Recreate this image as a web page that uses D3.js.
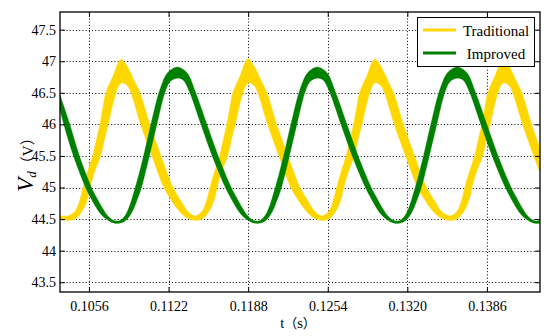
<!DOCTYPE html>
<html>
<head>
<meta charset="utf-8">
<script src="https://cdn.jsdelivr.net/npm/d3@7"></script>
<style>
  body { margin: 0; background: #fff; }
  svg { display: block; }
  text { font-family: "Liberation Serif", serif; fill: #000; }
  .cjk { font-family: "Noto Sans CJK SC", sans-serif; }
</style>
</head>
<body>
<svg id="chart" width="550" height="336"></svg>
<script>
// ---- data ----
var xTicks = [0.1056, 0.1122, 0.1188, 0.1254, 0.1320, 0.1386];
var xTickLabels = ["0.1056", "0.1122", "0.1188", "0.1254", "0.1320", "0.1386"];
var yTicks = [43.5, 44, 44.5, 45, 45.5, 46, 46.5, 47, 47.5];
var yTickLabels = ["43.5", "44", "44.5", "45", "45.5", "46", "46.5", "47", "47.5"];
var seriesNames = ["Traditional", "Improved"];

// Traditional: upper / lower edge of the ripple band, [t (s), v (V)]
var tradUpper = [
  [0.10320, 44.55], [0.10386, 44.55], [0.10444, 44.62], [0.10486, 44.81], [0.10511, 45.00], [0.10552, 45.27],
  [0.10591, 45.50], [0.10623, 45.76], [0.10652, 46.00], [0.10676, 46.26], [0.10701, 46.50], [0.10759, 46.76],
  [0.10826, 47.03], [0.10867, 46.95], [0.10909, 46.80], [0.10950, 46.63], [0.10983, 46.50], [0.11064, 46.00],
  [0.11157, 45.50], [0.11257, 45.00], [0.11331, 44.76], [0.11381, 44.62],
  [0.11439, 44.55], [0.11497, 44.62], [0.11539, 44.81], [0.11564, 45.00], [0.11605, 45.27], [0.11644, 45.50],
  [0.11675, 45.76], [0.11704, 46.00], [0.11729, 46.26], [0.11754, 46.50], [0.11812, 46.76], [0.11879, 47.04],
  [0.11920, 46.95], [0.11961, 46.80], [0.12003, 46.63], [0.12036, 46.50], [0.12116, 46.00], [0.12210, 45.50],
  [0.12310, 45.00], [0.12384, 44.76], [0.12434, 44.62],
  [0.12490, 44.55], [0.12548, 44.62], [0.12589, 44.81], [0.12614, 45.00], [0.12655, 45.27], [0.12694, 45.50],
  [0.12726, 45.76], [0.12755, 46.00], [0.12780, 46.26], [0.12805, 46.50], [0.12863, 46.76], [0.12929, 47.03],
  [0.12970, 46.95], [0.13012, 46.80], [0.13053, 46.63], [0.13086, 46.50], [0.13167, 46.00], [0.13260, 45.50],
  [0.13360, 45.00], [0.13435, 44.76], [0.13484, 44.62],
  [0.13553, 44.55], [0.13611, 44.62], [0.13653, 44.81], [0.13677, 45.00], [0.13719, 45.27], [0.13758, 45.50],
  [0.13789, 45.76], [0.13818, 46.00], [0.13843, 46.26], [0.13868, 46.50], [0.13926, 46.76], [0.13993, 47.02],
  [0.14034, 46.95], [0.14075, 46.80], [0.14117, 46.63], [0.14150, 46.50], [0.14230, 46.00], [0.14324, 45.50]
];
var tradLower = [
  [0.10320, 44.49], [0.10386, 44.48], [0.10453, 44.51], [0.10511, 44.65], [0.10552, 44.85], [0.10569, 45.00],
  [0.10610, 45.27], [0.10657, 45.50], [0.10689, 45.77], [0.10720, 46.00], [0.10751, 46.27], [0.10784, 46.50],
  [0.10809, 46.62], [0.10830, 46.66], [0.10851, 46.65], [0.10884, 46.60], [0.10909, 46.50], [0.10989, 46.00],
  [0.11083, 45.50], [0.11182, 45.00], [0.11240, 44.81], [0.11298, 44.65], [0.11365, 44.53],
  [0.11439, 44.48], [0.11505, 44.51], [0.11564, 44.65], [0.11605, 44.85], [0.11622, 45.00], [0.11663, 45.27],
  [0.11710, 45.50], [0.11742, 45.77], [0.11773, 46.00], [0.11804, 46.27], [0.11837, 46.50], [0.11862, 46.62],
  [0.11883, 46.66], [0.11903, 46.65], [0.11937, 46.60], [0.11961, 46.50], [0.12042, 46.00], [0.12136, 45.50],
  [0.12235, 45.00], [0.12293, 44.81], [0.12351, 44.65], [0.12417, 44.53],
  [0.12490, 44.48], [0.12556, 44.51], [0.12614, 44.65], [0.12655, 44.85], [0.12672, 45.00], [0.12714, 45.27],
  [0.12761, 45.50], [0.12792, 45.77], [0.12824, 46.00], [0.12855, 46.27], [0.12888, 46.50], [0.12913, 46.62],
  [0.12933, 46.66], [0.12954, 46.65], [0.12987, 46.60], [0.13012, 46.50], [0.13092, 46.00], [0.13186, 45.50],
  [0.13286, 45.00], [0.13344, 44.81], [0.13402, 44.65], [0.13468, 44.53],
  [0.13553, 44.48], [0.13619, 44.51], [0.13677, 44.65], [0.13719, 44.85], [0.13735, 45.00], [0.13777, 45.27],
  [0.13824, 45.50], [0.13856, 45.77], [0.13887, 46.00], [0.13918, 46.27], [0.13951, 46.50], [0.13976, 46.62],
  [0.13997, 46.66], [0.14017, 46.65], [0.14051, 46.60], [0.14075, 46.50], [0.14156, 46.00], [0.14249, 45.50],
  [0.14349, 45.00]
];

// Improved: upper / lower edge of the ripple band
var imprUpper = [
  [0.10320, 46.47], [0.10397, 46.03], [0.10478, 45.52], [0.10579, 45.01], [0.10621, 44.85], [0.10671, 44.68],
  [0.10712, 44.56], [0.10754, 44.49],
  [0.10795, 44.47], [0.10828, 44.49], [0.10861, 44.56], [0.10895, 44.70], [0.10936, 44.95], [0.10973, 45.20],
  [0.11015, 45.52], [0.11077, 46.03], [0.11143, 46.52], [0.11201, 46.79], [0.11243, 46.87], [0.11292, 46.91],
  [0.11342, 46.87], [0.11384, 46.79], [0.11442, 46.52], [0.11533, 46.03], [0.11628, 45.52], [0.11738, 45.01],
  [0.11782, 44.85], [0.11831, 44.68], [0.11873, 44.56], [0.11914, 44.49],
  [0.11956, 44.47], [0.11989, 44.49], [0.12022, 44.56], [0.12056, 44.70], [0.12097, 44.95], [0.12134, 45.20],
  [0.12176, 45.52], [0.12238, 46.03], [0.12304, 46.52], [0.12362, 46.79], [0.12404, 46.87], [0.12453, 46.91],
  [0.12503, 46.87], [0.12545, 46.79], [0.12603, 46.52], [0.12694, 46.03], [0.12789, 45.52], [0.12899, 45.01],
  [0.12943, 44.85], [0.12992, 44.68], [0.13034, 44.56], [0.13075, 44.49],
  [0.13116, 44.47], [0.13149, 44.49], [0.13182, 44.56], [0.13216, 44.70], [0.13257, 44.95], [0.13294, 45.20],
  [0.13336, 45.52], [0.13398, 46.03], [0.13464, 46.52], [0.13522, 46.79], [0.13564, 46.87], [0.13613, 46.91],
  [0.13663, 46.87], [0.13705, 46.79], [0.13763, 46.52], [0.13854, 46.03], [0.13949, 45.52], [0.14059, 45.01],
  [0.14103, 44.85], [0.14152, 44.68], [0.14194, 44.56], [0.14235, 44.49],
  [0.14277, 44.47], [0.14310, 44.49], [0.14343, 44.56]
];
var imprLower = [
  [0.10320, 46.23], [0.10347, 46.03], [0.10428, 45.52], [0.10530, 45.01], [0.10571, 44.85], [0.10621, 44.68],
  [0.10662, 44.57], [0.10704, 44.50], [0.10745, 44.45],
  [0.10795, 44.43], [0.10828, 44.44], [0.10861, 44.47], [0.10895, 44.54], [0.10928, 44.65], [0.10961, 44.81],
  [0.10994, 44.99], [0.11064, 45.52], [0.11127, 46.03], [0.11193, 46.52], [0.11234, 46.68], [0.11292, 46.73],
  [0.11342, 46.70], [0.11392, 46.52], [0.11483, 46.03], [0.11578, 45.52], [0.11689, 45.01], [0.11732, 44.85],
  [0.11782, 44.68], [0.11823, 44.57], [0.11864, 44.50], [0.11906, 44.45],
  [0.11956, 44.43], [0.11989, 44.44], [0.12022, 44.47], [0.12056, 44.54], [0.12089, 44.65], [0.12122, 44.81],
  [0.12155, 44.99], [0.12225, 45.52], [0.12288, 46.03], [0.12354, 46.52], [0.12395, 46.68], [0.12453, 46.73],
  [0.12503, 46.70], [0.12553, 46.52], [0.12644, 46.03], [0.12739, 45.52], [0.12850, 45.01], [0.12893, 44.85],
  [0.12943, 44.68], [0.12984, 44.57], [0.13025, 44.50], [0.13067, 44.45],
  [0.13116, 44.43], [0.13149, 44.44], [0.13182, 44.47], [0.13216, 44.54], [0.13249, 44.65], [0.13282, 44.81],
  [0.13315, 44.99], [0.13385, 45.52], [0.13448, 46.03], [0.13514, 46.52], [0.13555, 46.68], [0.13613, 46.73],
  [0.13663, 46.70], [0.13713, 46.52], [0.13804, 46.03], [0.13899, 45.52], [0.14010, 45.01], [0.14053, 44.85],
  [0.14103, 44.68], [0.14144, 44.57], [0.14185, 44.50], [0.14227, 44.45],
  [0.14277, 44.43], [0.14310, 44.44], [0.14343, 44.47]
];

(function () {
  "use strict";

  // plot box in pixels
  var box = { left: 60, right: 540, top: 12, bottom: 292 };
  var yellow = "#ffd700", green = "#008000";
  var serif = "Liberation Serif";

  var svg = d3.select("#chart");

  var xScale = d3.scaleLinear().domain([0.1032, 0.1430]).range([box.left, box.right]);
  var yScale = d3.scaleLinear().domain([43.345, 47.78]).range([box.bottom, box.top]);

  svg.append("defs").append("clipPath").attr("id", "plotClip")
    .append("rect").attr("x", box.left).attr("y", box.top)
    .attr("width", box.right - box.left).attr("height", box.bottom - box.top);

  // dotted grid, matlab style
  var grid = svg.append("g").attr("stroke", "#000").attr("stroke-width", 1)
    .attr("stroke-dasharray", "1,2.2").attr("fill", "none");
  xTicks.forEach(function(t) {
    var px = Math.round(xScale(t)) + 0.5;
    grid.append("line").attr("x1", px).attr("x2", px).attr("y1", box.top).attr("y2", box.bottom);
  });
  yTicks.forEach(function(v) {
    var py = Math.round(yScale(v)) + 0.5;
    grid.append("line").attr("x1", box.left).attr("x2", box.right).attr("y1", py).attr("y2", py);
  });

  // ripple bands: upper edge forward, lower edge back
  var edge = d3.line()
    .x(function(d) { return xScale(d[0]); })
    .y(function(d) { return yScale(d[1]); })
    .curve(d3.curveCatmullRom.alpha(0.5));

  function bandPath(upper, lower) {
    var a = edge(upper);
    var b = edge(lower.slice().reverse());
    return a + "L" + b.slice(1) + "Z";
  }

  var plot = svg.append("g").attr("clip-path", "url(#plotClip)");
  plot.append("path")
    .attr("d", bandPath(tradUpper, tradLower))
    .attr("fill", yellow).attr("stroke", yellow).attr("stroke-width", 0.6)
    .attr("stroke-linejoin", "round");
  plot.append("path")
    .attr("d", bandPath(imprUpper, imprLower))
    .attr("fill", green).attr("stroke", green).attr("stroke-width", 0.3)
    .attr("stroke-linejoin", "round");

  // axes, ticks inward on all four sides
  var xAxisB = d3.axisBottom(xScale).tickValues(xTicks).tickSize(-5)
    .tickFormat(function(d, i) { return xTickLabels[i]; }).tickPadding(9);
  var xAxisT = d3.axisTop(xScale).tickValues(xTicks).tickSize(-5).tickFormat("");
  var yAxisL = d3.axisLeft(yScale).tickValues(yTicks).tickSize(-5)
    .tickFormat(function(d, i) { return yTickLabels[i]; }).tickPadding(4);
  var yAxisR = d3.axisRight(yScale).tickValues(yTicks).tickSize(-5).tickFormat("");

  function styleAxis(g) {
    g.attr("font-family", serif).attr("font-size", 14);
    g.select(".domain").remove();
    g.selectAll(".tick line").attr("stroke", "#000");
    g.selectAll(".tick text")
      .attr("font-family", serif).attr("font-size", 14)
      .style("font-family", serif).style("font-size", "14px").attr("fill", "#000");
  }
  svg.append("g").attr("transform", "translate(0," + box.bottom + ")").call(xAxisB).call(styleAxis);
  svg.append("g").attr("transform", "translate(0," + box.top + ")").call(xAxisT).call(styleAxis);
  svg.append("g").attr("transform", "translate(" + box.left + ",0)").call(yAxisL).call(styleAxis);
  svg.append("g").attr("transform", "translate(" + box.right + ",0)").call(yAxisR).call(styleAxis);

  svg.append("rect")
    .attr("x", box.left).attr("y", box.top)
    .attr("width", box.right - box.left).attr("height", box.bottom - box.top)
    .attr("fill", "none").attr("stroke", "#000").attr("stroke-width", 1.3);

  // axis titles
  var xl = svg.append("text")
    .attr("x", (box.left + box.right) / 2 - 2).attr("y", 328)
    .attr("text-anchor", "middle").style("font-size", "14.5px");
  xl.append("tspan").text("t");
  xl.append("tspan").attr("class", "cjk").style("font-size", "13px").text("（");
  xl.append("tspan").text("s");
  xl.append("tspan").attr("class", "cjk").style("font-size", "13px").text("）");

  var yl = svg.append("text")
    .attr("transform", "translate(33,161) rotate(-90)")
    .attr("text-anchor", "middle");
  yl.append("tspan").style("font-style", "italic").style("font-size", "23px").text("V");
  yl.append("tspan").style("font-style", "italic").style("font-size", "13px").attr("dy", 3).text("d");
  yl.append("tspan").attr("class", "cjk").style("font-size", "15px").attr("dy", -3).text("（");
  yl.append("tspan").style("font-size", "15px").text("V");
  yl.append("tspan").attr("class", "cjk").style("font-size", "15px").text("）");

  // legend
  var lg = svg.append("g");
  lg.append("rect")
    .attr("x", 417.5).attr("y", 17.5).attr("width", 117).attr("height", 49)
    .attr("fill", "#fff").attr("stroke", "#000").attr("stroke-width", 1);
  var legendColors = [yellow, green];
  seriesNames.forEach(function(name, i) {
    var ly = 30 + i * 23;
    lg.append("line")
      .attr("x1", 423).attr("x2", 456).attr("y1", ly).attr("y2", ly)
      .attr("stroke", legendColors[i]).attr("stroke-width", 3);
    lg.append("text")
      .attr("x", 496).attr("y", ly + 5.5)
      .attr("text-anchor", "middle").style("font-size", "15px")
      .text(name);
  });
}());
</script>
</body>
</html>
